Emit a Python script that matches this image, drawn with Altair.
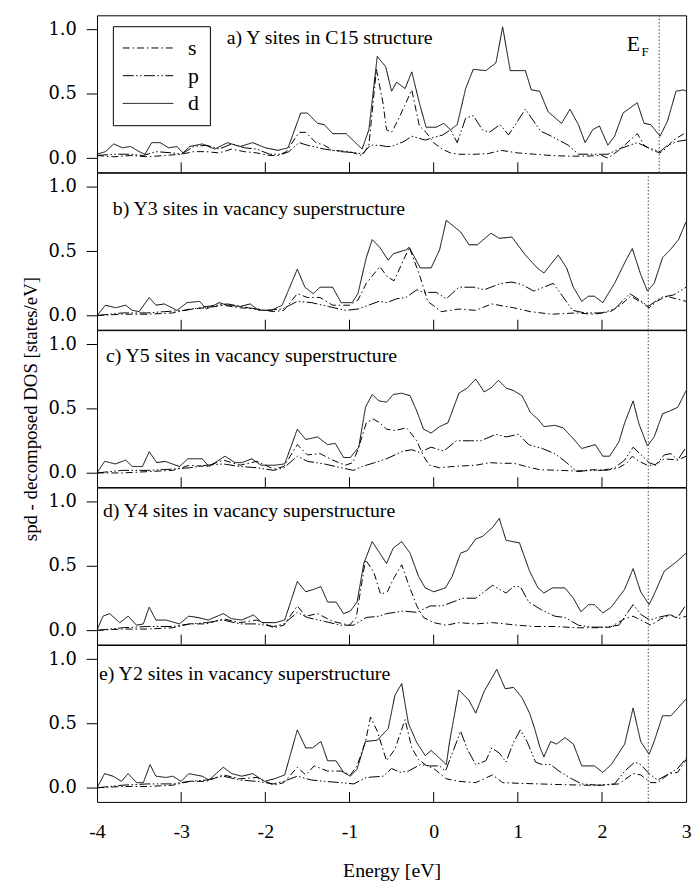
import altair as alt
import pandas as pd

ORBITALS = ["s", "p", "d"]
PANEL_LABELS = [
    "a) Y sites in C15 structure",
    "b) Y3 sites in vacancy superstructure",
    "c) Y5 sites in vacancy superstructure",
    "d) Y4 sites in vacancy superstructure",
    "e) Y2 sites in vacancy superstructure",
]
E_FERMI = [2.68, 2.55, 2.55, 2.55, 2.55]
X_LABEL_VALUES = [-4, -3, -2, -1, 0, 1, 2, 3]
X_INNER_TICKS = [-3, -2, -1, 0, 1, 2]
Y_TICKS = [0.0, 0.5, 1.0]

# ---- panel a: Y sites in C15 structure (energy eV, DOS states/eV)
a_s = [(-4.0,0.02),(-3.8,0.01),(-3.6,0.02),(-3.4,0.01),(-3.2,0.02),(-3.0,0.03),(-2.85,0.05),(-2.7,0.05),
       (-2.55,0.04),(-2.4,0.07),(-2.25,0.05),(-2.1,0.04),(-1.95,0.02),(-1.85,0.02),(-1.75,0.05),(-1.6,0.2),
       (-1.52,0.2),(-1.4,0.12),(-1.3,0.1),(-1.2,0.06),(-1.0,0.05),(-0.85,0.02),(-0.77,0.1),(-0.68,0.69),
       (-0.6,0.42),(-0.56,0.22),(-0.5,0.2),(-0.42,0.3),(-0.26,0.53),(-0.17,0.25),(-0.09,0.2),(0.0,0.12),
       (0.1,0.07),(0.2,0.04),(0.3,0.03),(0.5,0.03),(0.65,0.035),(0.8,0.06),(1.0,0.04),(1.2,0.03),(1.4,0.02),
       (1.6,0.015),(1.8,0.015),(2.0,0.02),(2.07,0.0),(2.2,0.06),(2.42,0.19),(2.5,0.1),(2.6,0.06),(2.69,0.04),
       (2.75,0.07),(2.85,0.14),(3.0,0.2)]
a_p = [(-4.0,0.02),(-3.8,0.03),(-3.6,0.03),(-3.45,0.02),(-3.3,0.05),(-3.1,0.04),(-3.0,0.03),(-2.85,0.09),
       (-2.7,0.1),(-2.55,0.07),(-2.4,0.11),(-2.25,0.08),(-2.1,0.07),(-1.95,0.03),(-1.8,0.03),(-1.72,0.05),
       (-1.6,0.12),(-1.5,0.1),(-1.3,0.07),(-1.1,0.05),(-0.9,0.04),(-0.85,0.03),(-0.75,0.1),(-0.65,0.1),
       (-0.56,0.09),(-0.5,0.09),(-0.35,0.13),(-0.26,0.17),(-0.1,0.14),(-0.05,0.15),(0.11,0.18),(0.2,0.22),
       (0.28,0.12),(0.38,0.31),(0.47,0.33),(0.58,0.22),(0.66,0.2),(0.79,0.26),(0.89,0.18),(1.09,0.38),
       (1.27,0.21),(1.4,0.17),(1.6,0.1),(1.72,0.03),(1.9,0.03),(2.07,0.03),(2.2,0.07),(2.42,0.12),(2.55,0.08),
       (2.69,0.05),(2.78,0.1),(2.9,0.13),(3.0,0.14)]
a_d = [(-4.0,0.03),(-3.9,0.05),(-3.8,0.11),(-3.7,0.08),(-3.6,0.09),(-3.5,0.05),(-3.43,0.03),(-3.35,0.12),
       (-3.25,0.12),(-3.15,0.08),(-3.05,0.09),(-2.98,0.04),(-2.9,0.09),(-2.75,0.11),(-2.6,0.07),(-2.45,0.12),
       (-2.3,0.09),(-2.15,0.12),(-2.0,0.08),(-1.85,0.06),(-1.73,0.08),(-1.58,0.35),(-1.5,0.35),(-1.38,0.27),
       (-1.3,0.26),(-1.2,0.19),(-1.04,0.19),(-0.85,0.07),(-0.77,0.22),(-0.67,0.79),(-0.57,0.71),(-0.5,0.52),
       (-0.44,0.59),(-0.34,0.54),(-0.26,0.67),(-0.17,0.43),(-0.09,0.24),(0.03,0.24),(0.12,0.27),(0.2,0.22),
       (0.28,0.26),(0.38,0.54),(0.47,0.69),(0.62,0.68),(0.74,0.74),(0.82,1.02),(0.91,0.68),(1.09,0.68),
       (1.16,0.53),(1.26,0.52),(1.36,0.36),(1.52,0.27),(1.62,0.38),(1.72,0.26),(1.8,0.12),(1.89,0.22),
       (1.97,0.25),(2.07,0.1),(2.15,0.17),(2.25,0.35),(2.42,0.43),(2.5,0.27),(2.58,0.26),(2.69,0.17),
       (2.78,0.29),(2.88,0.52),(2.97,0.53),(3.0,0.52)]

# ---- panel b: Y3 sites
b_s = [(-4.0,0.0),(-3.7,0.01),(-3.4,0.01),(-3.1,0.02),(-2.9,0.05),(-2.7,0.06),(-2.5,0.08),(-2.3,0.06),
       (-2.1,0.05),(-1.9,0.03),(-1.78,0.04),(-1.62,0.17),(-1.5,0.14),(-1.35,0.14),(-1.2,0.08),(-1.0,0.08),
       (-0.9,0.12),(-0.8,0.25),(-0.64,0.38),(-0.55,0.3),(-0.47,0.27),(-0.29,0.53),(-0.17,0.32),(-0.07,0.11),
       (0.09,0.03),(0.3,0.05),(0.5,0.04),(0.69,0.09),(0.95,0.06),(1.15,0.03),(1.4,0.01),(1.7,0.02),(1.9,0.01),
       (2.1,0.03),(2.22,0.08),(2.34,0.15),(2.45,0.11),(2.56,0.06),(2.65,0.11),(2.77,0.15),(2.88,0.13),(3.0,0.11)]
b_p = [(-4.0,0.0),(-3.7,0.02),(-3.4,0.02),(-3.2,0.03),(-2.95,0.04),(-2.7,0.07),(-2.45,0.09),(-2.2,0.06),
       (-2.0,0.04),(-1.8,0.05),(-1.62,0.11),(-1.45,0.1),(-1.25,0.07),(-1.05,0.04),(-0.9,0.05),(-0.65,0.11),
       (-0.56,0.1),(-0.44,0.13),(-0.33,0.14),(-0.2,0.2),(-0.12,0.18),(0.03,0.18),(0.15,0.13),(0.3,0.22),
       (0.49,0.22),(0.6,0.2),(0.8,0.25),(0.93,0.26),(1.05,0.24),(1.19,0.19),(1.31,0.22),(1.42,0.25),
       (1.51,0.17),(1.65,0.04),(1.8,0.02),(2.0,0.02),(2.15,0.05),(2.33,0.17),(2.45,0.12),(2.55,0.07),
       (2.7,0.14),(2.85,0.16),(3.0,0.22)]
b_d = [(-4.0,0.0),(-3.9,0.08),(-3.78,0.06),(-3.66,0.08),(-3.58,0.04),(-3.5,0.03),(-3.38,0.14),(-3.3,0.08),
       (-3.2,0.09),(-3.05,0.04),(-2.93,0.1),(-2.78,0.11),(-2.7,0.05),(-2.55,0.1),(-2.45,0.08),(-2.3,0.07),
       (-2.18,0.09),(-2.08,0.04),(-1.93,0.04),(-1.8,0.08),(-1.62,0.36),(-1.53,0.22),(-1.43,0.17),(-1.35,0.22),
       (-1.2,0.22),(-1.1,0.1),(-0.97,0.1),(-0.9,0.17),(-0.8,0.45),(-0.73,0.59),(-0.64,0.53),(-0.54,0.43),
       (-0.48,0.48),(-0.33,0.51),(-0.29,0.53),(-0.16,0.37),(-0.03,0.37),(0.07,0.51),(0.15,0.74),(0.32,0.65),
       (0.42,0.55),(0.52,0.55),(0.68,0.64),(0.78,0.6),(0.93,0.61),(1.09,0.47),(1.23,0.37),(1.31,0.33),
       (1.48,0.47),(1.58,0.37),(1.66,0.22),(1.76,0.11),(1.84,0.15),(1.91,0.15),(2.01,0.1),(2.15,0.25),
       (2.27,0.41),(2.36,0.52),(2.46,0.32),(2.54,0.19),(2.62,0.25),(2.72,0.45),(2.81,0.51),(2.91,0.59),(3.0,0.73)]

# ---- panel c: Y5 sites
c_s = [(-4.0,0.0),(-3.7,0.0),(-3.4,0.01),(-3.1,0.02),(-2.9,0.06),(-2.7,0.05),(-2.5,0.1),(-2.3,0.06),
       (-2.1,0.09),(-1.9,0.03),(-1.78,0.05),(-1.62,0.22),(-1.5,0.14),(-1.35,0.15),(-1.2,0.1),(-1.05,0.06),
       (-0.96,0.08),(-0.89,0.2),(-0.8,0.39),(-0.72,0.42),(-0.64,0.39),(-0.56,0.34),(-0.46,0.33),(-0.32,0.35),
       (-0.2,0.25),(-0.12,0.13),(-0.05,0.06),(0.07,0.04),(0.23,0.05),(0.5,0.06),(0.67,0.08),(0.8,0.075),
       (0.95,0.075),(1.1,0.05),(1.26,0.025),(1.5,0.02),(1.7,0.015),(1.9,0.025),(2.05,0.02),(2.2,0.04),
       (2.3,0.08),(2.36,0.13),(2.44,0.09),(2.54,0.06),(2.62,0.06),(2.74,0.11),(2.9,0.1),(3.0,0.13)]
c_p = [(-4.0,0.0),(-3.7,0.02),(-3.4,0.02),(-3.1,0.03),(-2.9,0.04),(-2.7,0.06),(-2.5,0.07),(-2.3,0.05),
       (-2.1,0.04),(-1.9,0.02),(-1.78,0.04),(-1.62,0.13),(-1.5,0.09),(-1.3,0.07),(-1.1,0.04),(-0.95,0.02),
       (-0.85,0.05),(-0.7,0.08),(-0.56,0.11),(-0.36,0.17),(-0.26,0.18),(-0.17,0.16),(-0.03,0.2),(0.12,0.17),
       (0.27,0.25),(0.45,0.25),(0.56,0.25),(0.74,0.3),(0.86,0.28),(1.01,0.3),(1.13,0.22),(1.29,0.19),
       (1.44,0.15),(1.58,0.08),(1.7,0.01),(1.85,0.02),(2.0,0.02),(2.15,0.04),(2.27,0.1),(2.37,0.2),
       (2.45,0.15),(2.56,0.08),(2.64,0.06),(2.74,0.14),(2.82,0.15),(2.9,0.1),(3.0,0.2)]
c_d = [(-4.0,0.0),(-3.91,0.09),(-3.78,0.07),(-3.66,0.1),(-3.58,0.05),(-3.46,0.05),(-3.38,0.165),(-3.29,0.08),
       (-3.19,0.09),(-3.02,0.05),(-2.92,0.11),(-2.75,0.11),(-2.67,0.05),(-2.48,0.13),(-2.36,0.08),(-2.28,0.08),
       (-2.16,0.11),(-2.05,0.06),(-1.89,0.06),(-1.77,0.07),(-1.62,0.34),(-1.52,0.26),(-1.38,0.28),(-1.26,0.22),
       (-1.17,0.23),(-1.07,0.12),(-0.99,0.12),(-0.89,0.2),(-0.81,0.51),(-0.73,0.61),(-0.65,0.56),(-0.56,0.55),
       (-0.48,0.61),(-0.38,0.62),(-0.28,0.6),(-0.2,0.48),(-0.12,0.34),(-0.03,0.31),(0.07,0.36),(0.17,0.39),
       (0.3,0.62),(0.4,0.66),(0.5,0.73),(0.6,0.63),(0.68,0.66),(0.77,0.72),(0.86,0.66),(0.95,0.64),(1.05,0.6),
       (1.15,0.47),(1.25,0.41),(1.31,0.36),(1.44,0.37),(1.54,0.35),(1.64,0.28),(1.76,0.19),(1.92,0.22),
       (2.01,0.13),(2.09,0.13),(2.2,0.24),(2.27,0.39),(2.37,0.56),(2.44,0.38),(2.54,0.21),(2.62,0.28),
       (2.72,0.46),(2.8,0.48),(2.9,0.51),(3.0,0.64)]

# ---- panel d: Y4 sites
d_s = [(-4.0,0.0),(-3.7,0.01),(-3.4,0.01),(-3.1,0.02),(-2.9,0.05),(-2.7,0.05),(-2.5,0.09),(-2.3,0.06),
       (-2.1,0.08),(-1.9,0.02),(-1.78,0.04),(-1.62,0.19),(-1.52,0.11),(-1.38,0.13),(-1.2,0.07),(-1.0,0.04),
       (-0.92,0.1),(-0.81,0.55),(-0.71,0.45),(-0.63,0.28),(-0.55,0.3),(-0.47,0.41),(-0.38,0.51),(-0.3,0.36),
       (-0.2,0.19),(-0.12,0.1),(0.0,0.06),(0.15,0.04),(0.3,0.06),(0.5,0.05),(0.7,0.06),(0.85,0.05),(1.0,0.04),
       (1.2,0.03),(1.45,0.03),(1.7,0.02),(1.9,0.02),(2.1,0.025),(2.27,0.09),(2.37,0.11),(2.46,0.08),
       (2.58,0.04),(2.7,0.09),(2.82,0.12),(2.9,0.09),(3.0,0.11)]
d_p = [(-4.0,0.0),(-3.7,0.02),(-3.4,0.03),(-3.1,0.03),(-2.9,0.05),(-2.7,0.06),(-2.5,0.08),(-2.3,0.05),
       (-2.1,0.05),(-1.9,0.03),(-1.78,0.05),(-1.62,0.14),(-1.5,0.1),(-1.3,0.07),(-1.1,0.04),(-0.95,0.04),
       (-0.8,0.1),(-0.65,0.11),(-0.56,0.13),(-0.36,0.15),(-0.2,0.14),(-0.04,0.19),(0.1,0.19),(0.35,0.25),
       (0.5,0.25),(0.7,0.35),(0.86,0.29),(0.95,0.34),(1.03,0.34),(1.13,0.22),(1.28,0.16),(1.44,0.11),
       (1.56,0.1),(1.72,0.04),(1.88,0.025),(2.03,0.025),(2.2,0.04),(2.37,0.2),(2.47,0.12),(2.57,0.08),
       (2.66,0.1),(2.8,0.12),(2.9,0.1),(3.0,0.2)]
d_d = [(-4.0,0.0),(-3.93,0.11),(-3.85,0.13),(-3.73,0.06),(-3.63,0.11),(-3.53,0.04),(-3.45,0.05),(-3.38,0.18),
       (-3.3,0.08),(-3.18,0.08),(-3.02,0.05),(-2.91,0.11),(-2.8,0.1),(-2.68,0.08),(-2.5,0.13),(-2.4,0.09),
       (-2.28,0.08),(-2.14,0.12),(-2.04,0.06),(-1.88,0.06),(-1.77,0.08),(-1.62,0.38),(-1.52,0.3),(-1.42,0.32),
       (-1.34,0.34),(-1.26,0.22),(-1.16,0.22),(-1.07,0.13),(-0.99,0.15),(-0.91,0.22),(-0.83,0.52),(-0.73,0.69),
       (-0.64,0.6),(-0.56,0.52),(-0.48,0.64),(-0.38,0.69),(-0.28,0.6),(-0.18,0.42),(-0.1,0.33),(0.0,0.3),
       (0.14,0.33),(0.22,0.42),(0.32,0.6),(0.4,0.62),(0.5,0.71),(0.58,0.73),(0.7,0.8),(0.78,0.87),(0.86,0.7),
       (1.02,0.68),(1.14,0.46),(1.24,0.33),(1.31,0.29),(1.41,0.33),(1.56,0.33),(1.66,0.25),(1.75,0.145),
       (1.84,0.2),(1.91,0.2),(2.01,0.135),(2.11,0.18),(2.27,0.32),(2.37,0.48),(2.46,0.3),(2.56,0.2),
       (2.62,0.28),(2.74,0.46),(2.88,0.53),(3.0,0.6)]

# ---- panel e: Y2 sites
e_s = [(-4.0,0.0),(-3.7,0.01),(-3.4,0.01),(-3.1,0.02),(-2.9,0.05),(-2.7,0.05),(-2.5,0.1),(-2.3,0.07),
       (-2.1,0.08),(-1.9,0.02),(-1.78,0.04),(-1.62,0.16),(-1.52,0.1),(-1.42,0.17),(-1.26,0.13),(-1.1,0.13),
       (-0.99,0.1),(-0.91,0.17),(-0.81,0.36),(-0.75,0.55),(-0.67,0.44),(-0.56,0.21),(-0.46,0.3),(-0.34,0.53),
       (-0.26,0.31),(-0.18,0.22),(-0.08,0.17),(0.0,0.15),(0.15,0.07),(0.3,0.05),(0.5,0.04),(0.7,0.1),
       (0.82,0.04),(1.0,0.035),(1.25,0.03),(1.5,0.025),(1.8,0.02),(2.0,0.02),(2.2,0.03),(2.37,0.11),
       (2.46,0.1),(2.58,0.04),(2.66,0.04),(2.8,0.11),(2.9,0.12),(3.0,0.22)]
e_p = [(-4.0,0.0),(-3.7,0.02),(-3.4,0.03),(-3.1,0.03),(-2.9,0.05),(-2.7,0.06),(-2.5,0.09),(-2.3,0.06),
       (-2.1,0.05),(-1.9,0.03),(-1.78,0.05),(-1.62,0.09),(-1.45,0.06),(-1.3,0.05),(-1.1,0.04),(-0.95,0.03),
       (-0.8,0.08),(-0.6,0.09),(-0.5,0.15),(-0.4,0.12),(-0.3,0.13),(-0.16,0.18),(-0.05,0.17),(0.07,0.17),
       (0.14,0.13),(0.24,0.3),(0.32,0.44),(0.4,0.3),(0.5,0.18),(0.62,0.21),(0.69,0.31),(0.78,0.27),(0.86,0.2),
       (0.94,0.34),(1.03,0.45),(1.11,0.36),(1.21,0.2),(1.29,0.18),(1.39,0.18),(1.49,0.13),(1.64,0.07),
       (1.76,0.03),(1.95,0.02),(2.15,0.03),(2.27,0.13),(2.39,0.2),(2.46,0.18),(2.56,0.11),(2.66,0.06),
       (2.8,0.11),(2.9,0.15),(3.0,0.23)]
e_d = [(-4.0,0.0),(-3.91,0.11),(-3.81,0.09),(-3.71,0.05),(-3.63,0.11),(-3.53,0.04),(-3.45,0.04),(-3.37,0.18),
       (-3.3,0.09),(-3.18,0.08),(-3.1,0.09),(-3.0,0.05),(-2.91,0.11),(-2.75,0.09),(-2.67,0.06),(-2.5,0.16),
       (-2.4,0.11),(-2.28,0.09),(-2.15,0.11),(-2.01,0.05),(-1.89,0.07),(-1.77,0.1),(-1.62,0.45),(-1.52,0.31),
       (-1.44,0.31),(-1.34,0.36),(-1.26,0.21),(-1.16,0.21),(-1.07,0.12),(-0.99,0.09),(-0.91,0.145),(-0.81,0.36),
       (-0.67,0.37),(-0.54,0.46),(-0.46,0.72),(-0.38,0.81),(-0.3,0.5),(-0.2,0.35),(-0.1,0.25),(-0.03,0.29),
       (0.07,0.23),(0.15,0.18),(0.19,0.36),(0.3,0.76),(0.42,0.68),(0.5,0.58),(0.6,0.75),(0.75,0.92),
       (0.85,0.77),(0.95,0.78),(1.05,0.7),(1.14,0.58),(1.2,0.46),(1.26,0.32),(1.31,0.24),(1.39,0.36),
       (1.46,0.34),(1.56,0.39),(1.66,0.34),(1.76,0.17),(1.91,0.17),(2.01,0.12),(2.11,0.18),(2.27,0.34),
       (2.37,0.62),(2.46,0.36),(2.56,0.26),(2.62,0.36),(2.72,0.56),(2.82,0.56),(3.0,0.69)]

PANELS = [(a_s, a_p, a_d), (b_s, b_p, b_d), (c_s, c_p, c_d), (d_s, d_p, d_d), (e_s, e_p, e_d)]

# ---- layout / style
W = 595
H = 158.5
SERIF = "Liberation Serif"
LABEL_POS = [(131, 29), (16, 43), (9, 32), (6, 30), (2, 35)]

dash_scale = alt.Scale(domain=ORBITALS,
                       range=[[7, 3, 1.5, 3], [11, 2.5, 1.5, 2.5, 1.5, 2.5], [1, 0]])
xs = alt.Scale(domain=[-4, 3], nice=False, zero=False)
ys = alt.Scale(domain=[-0.11, 1.11], nice=False, zero=False)


def panel(i):
    rows = []
    for orb, pts in zip(ORBITALS, PANELS[i]):
        for e, v in pts:
            rows.append({"E": e, "dos": v, "orbital": orb})
    df = pd.DataFrame(rows)

    last = i == len(PANELS) - 1
    if last:
        xaxis = alt.Axis(values=X_LABEL_VALUES, ticks=False, tickSize=0, domain=False, grid=False,
                         labelExpr="'' + datum.value", labelFont=SERIF, labelFontSize=20,
                         labelColor="black", labelPadding=20, labelFlush=False,
                         title="Energy [eV]", titleFont=SERIF, titleFontSize=20,
                         titleFontWeight="normal", titleColor="black", titlePadding=19)
    else:
        xaxis = None
    X = alt.X("E:Q", scale=xs, axis=xaxis)

    yaxis = alt.Axis(values=Y_TICKS, format=".1f", tickSize=11, tickColor="black", domain=False,
                     grid=False, labelFont="DejaVu Serif", labelFontSize=18, labelColor="black",
                     labelPadding=10,
                     title="spd - decomposed DOS [states/eV]" if i == 2 else None,
                     titleFont=SERIF, titleFontSize=19, titleFontWeight="normal",
                     titleColor="black", titlePadding=8)

    if i == 0:
        # long dashed sample strokes drawn in compact rows
        legend = alt.Legend(title=None, orient="none", legendX=16, legendY=11,
                            strokeColor="black", fillColor="white", padding=11,
                            symbolType="M-1.2,0H3.9", symbolSize=400,
                            symbolStrokeColor="black", symbolStrokeWidth=1,
                            labelFont=SERIF, labelFontSize=22, labelColor="black",
                            labelOffset=43, rowPadding=6, labelBaseline="middle")
    else:
        legend = None

    lines = alt.Chart(df).mark_line(color="black", strokeWidth=1, clip=True).encode(
        x=X,
        y=alt.Y("dos:Q", scale=ys, axis=yaxis),
        strokeDash=alt.StrokeDash("orbital:N", scale=dash_scale, legend=legend),
    )

    ef = alt.Chart(pd.DataFrame({"E": [E_FERMI[i]]})).mark_rule(
        color="#444444", strokeDash=[1.5, 2], strokeWidth=1
    ).encode(x=X)

    inner_ticks = alt.Chart(pd.DataFrame({"E": X_INNER_TICKS})).mark_rule(
        color="black", strokeWidth=1
    ).encode(x=X, y=alt.value(H), y2=alt.value(H - 10))

    label = alt.Chart(pd.DataFrame({"label": [PANEL_LABELS[i]]})).mark_text(
        align="left", baseline="alphabetic", font=SERIF, fontSize=20, color="black"
    ).encode(x=alt.value(LABEL_POS[i][0]), y=alt.value(LABEL_POS[i][1]), text="label:N")

    layers = [lines, ef, inner_ticks, label]
    if i == 0:
        ef_main = alt.Chart(pd.DataFrame({"t": ["E"]})).mark_text(
            align="left", baseline="alphabetic", font=SERIF, fontSize=22, color="black"
        ).encode(x=alt.value(535), y=alt.value(36), text="t:N")
        ef_sub = alt.Chart(pd.DataFrame({"t": ["F"]})).mark_text(
            align="left", baseline="alphabetic", font=SERIF, fontSize=13, color="black"
        ).encode(x=alt.value(550), y=alt.value(41), text="t:N")
        layers += [ef_main, ef_sub]

    return alt.layer(*layers).properties(width=W, height=H)


chart = alt.vconcat(*[panel(i) for i in range(len(PANELS))], spacing=0, bounds="flush").resolve_scale(
    strokeDash="independent"
).resolve_legend(
    strokeDash="independent"
).configure_view(
    stroke="black", strokeWidth=1
).properties(
    padding={"left": 20, "top": 10, "right": 7, "bottom": 5},
    background="white",
)

chart.save("out.html", embed_options={"renderer": "svg", "actions": False})
